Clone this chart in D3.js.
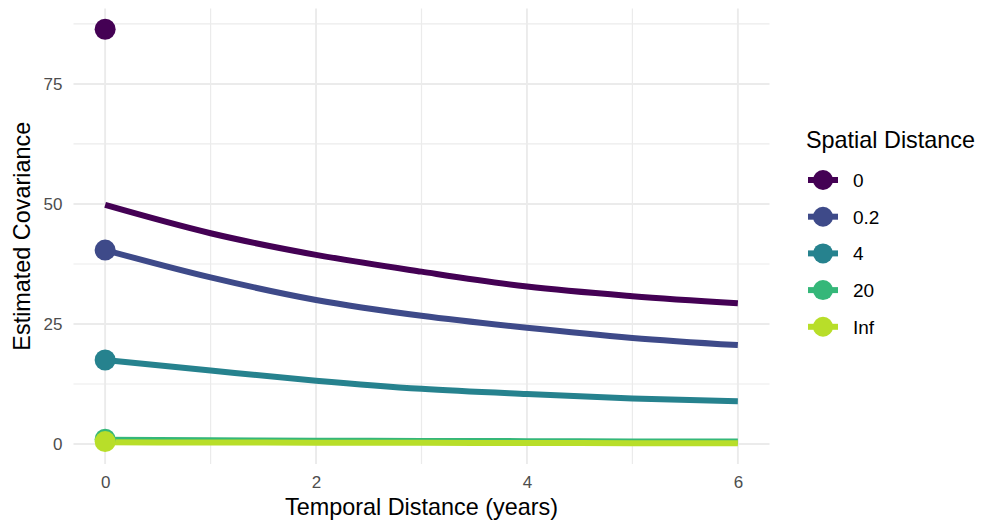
<!DOCTYPE html>
<html>
<head>
<meta charset="utf-8">
<script src="https://cdn.jsdelivr.net/npm/d3@7"></script>
<style>
    html, body { margin: 0; padding: 0; background: #ffffff; }
    svg { display: block; font-family: "Liberation Sans", Arial, sans-serif; }
</style>
</head>
<body>
<div id="chart"></div>
<script>
// temporal lags (years) at which the fitted curves were read
const temporal = [0, 1, 2, 3, 4, 5, 6];

// spatial distance groups (legend order)
const spatial = ["0", "0.2", "4", "20", "Inf"];
const colors = ["#440154", "#3e4a89", "#26828e", "#35b779", "#b8de29"];

// fitted covariance curves, one array per spatial distance
const cov0 = [49.8, 43.9, 39.4, 35.9, 32.8, 30.8, 29.3];
const cov02 = [40.4, 34.7, 30.0, 26.7, 24.2, 22.1, 20.6];
const cov4 = [17.5, 15.3, 13.2, 11.5, 10.4, 9.5, 8.9];
const cov20 = [0.9, 0.8, 0.7, 0.65, 0.6, 0.55, 0.5];
const covInf = [0.35, 0.32, 0.28, 0.25, 0.2, 0.18, 0.15];

// empirical covariance at lag 0 (points)
const pointValues = [86.4, 40.4, 17.5, 1.0, 0.5];

const xTicks = [0, 2, 4, 6];
const xMinor = [1, 3, 5];
const yTicks = [0, 25, 50, 75];
const yMinor = [12.5, 37.5, 62.5, 87.5];

let series = [cov0, cov02, cov4, cov20, covInf].map((vals, i) => ({
    name: spatial[i],
    color: colors[i],
    values: vals.map((v, j) => ({ t: temporal[j], v: v }))
}));
let points = pointValues.map((v, i) => ({ t: 0, v: v, color: colors[i] }));

let width = 982, height = 527;
let panel = ({ left: 73.5, right: 769.5, top: 8.5, bottom: 464 });

// ggplot style 5% expansion
let allVals = series.flatMap(s => s.values.map(d => d.v)).concat(pointValues);
let [yMin, yMax] = d3.extent(allVals);
let yPad = (yMax - yMin) * 0.05;
let xPad = (d3.max(temporal) - d3.min(temporal)) * 0.05;

let x = d3.scaleLinear()
    .domain([d3.min(temporal) - xPad, d3.max(temporal) + xPad])
    .range([panel.left, panel.right]);

let y = d3.scaleLinear()
    .domain([yMin - yPad, yMax + yPad])
    .range([panel.bottom, panel.top]);

let svg = d3.select("#chart")
    .append("svg")
    .attr("width", width)
    .attr("height", height)
    .attr("viewBox", [0, 0, width, height]);

// grid
let grid = svg.append("g");
grid.selectAll(".xminor").data(xMinor).join("line")
    .attr("x1", d => x(d)).attr("x2", d => x(d))
    .attr("y1", panel.top).attr("y2", panel.bottom)
    .attr("stroke", "#ebebeb").attr("stroke-width", 1.2);
grid.selectAll(".yminor").data(yMinor).join("line")
    .attr("y1", d => y(d)).attr("y2", d => y(d))
    .attr("x1", panel.left).attr("x2", panel.right)
    .attr("stroke", "#ebebeb").attr("stroke-width", 1.2);
grid.selectAll(".xmajor").data(xTicks).join("line")
    .attr("x1", d => x(d)).attr("x2", d => x(d))
    .attr("y1", panel.top).attr("y2", panel.bottom)
    .attr("stroke", "#ebebeb").attr("stroke-width", 1.9);
grid.selectAll(".ymajor").data(yTicks).join("line")
    .attr("y1", d => y(d)).attr("y2", d => y(d))
    .attr("x1", panel.left).attr("x2", panel.right)
    .attr("stroke", "#ebebeb").attr("stroke-width", 1.9);

// axes (labels only, like theme_minimal)
let xAxis = g => g
    .attr("transform", `translate(0,${panel.bottom})`)
    .call(d3.axisBottom(x).tickValues(xTicks).tickFormat(d3.format("d")).tickSize(0).tickPadding(12))
    .call(g => g.select(".domain").remove())
    .selectAll("text")
    .style("font-size", "17px")
    .attr("fill", "#4d4d4d");

let yAxis = g => g
    .attr("transform", `translate(${panel.left},0)`)
    .call(d3.axisLeft(y).tickValues(yTicks).tickFormat(d3.format("d")).tickSize(0).tickPadding(11))
    .call(g => g.select(".domain").remove())
    .selectAll("text")
    .style("font-size", "17px")
    .attr("fill", "#4d4d4d");

svg.append("g").call(xAxis);
svg.append("g").call(yAxis);
svg.selectAll(".tick text").attr("font-family", null);

// curves
let line = d3.line()
    .x(d => x(d.t))
    .y(d => y(d.v))
    .curve(d3.curveMonotoneX);

svg.append("g")
    .selectAll("path")
    .data(series)
    .join("path")
    .attr("d", d => line(d.values))
    .attr("fill", "none")
    .attr("stroke", d => d.color)
    .attr("stroke-width", 6);

svg.append("g")
    .selectAll("circle")
    .data(points)
    .join("circle")
    .attr("cx", d => x(d.t))
    .attr("cy", d => y(d.v))
    .attr("r", 10.5)
    .attr("fill", d => d.color);

// axis titles
svg.append("text")
    .attr("x", (panel.left + panel.right) / 2)
    .attr("y", 515)
    .attr("text-anchor", "middle")
    .style("font-size", "23.4px")
    .attr("fill", "#000")
    .text("Temporal Distance (years)");

svg.append("text")
    .attr("transform", `translate(30,${(panel.top + panel.bottom) / 2}) rotate(-90)`)
    .attr("text-anchor", "middle")
    .style("font-size", "23.4px")
    .attr("fill", "#000")
    .text("Estimated Covariance");

// legend
let legend = svg.append("g").attr("transform", "translate(806,0)");
legend.append("text")
    .attr("x", 0)
    .attr("y", 148)
    .style("font-size", "23.4px")
    .attr("fill", "#000")
    .text("Spatial Distance");

let keys = legend.selectAll(".key")
    .data(series)
    .join("g")
    .attr("transform", (d, i) => `translate(0,${180 + i * 36.7})`);
keys.append("line")
    .attr("x1", 2).attr("x2", 32)
    .attr("stroke", d => d.color)
    .attr("stroke-width", 6);
keys.append("circle")
    .attr("cx", 17)
    .attr("r", 10)
    .attr("fill", d => d.color);
keys.append("text")
    .attr("x", 47)
    .attr("y", 6.8)
    .style("font-size", "19px")
    .attr("fill", "#000")
    .text(d => d.name);
</script>
</body>
</html>
